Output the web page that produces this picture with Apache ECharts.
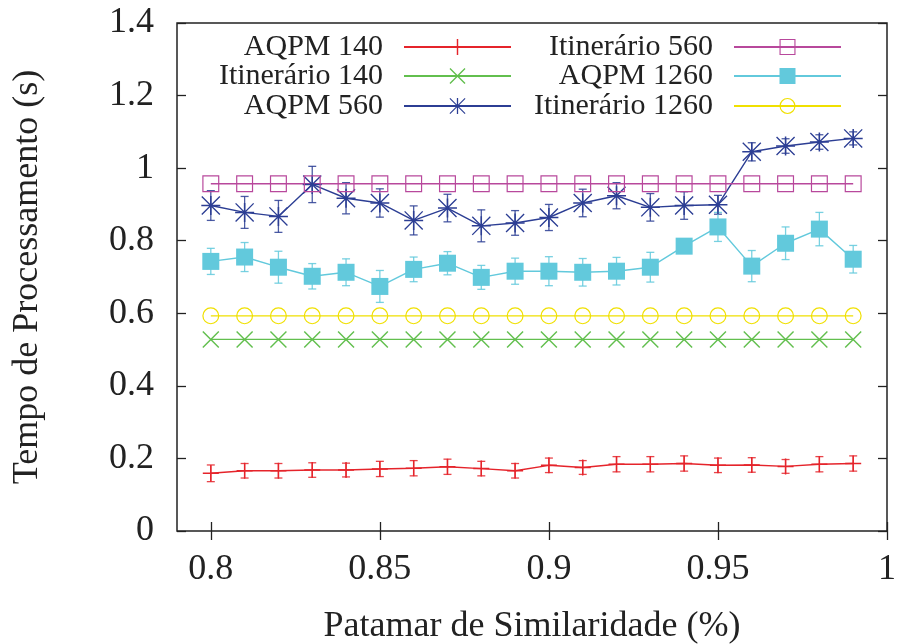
<!DOCTYPE html>
<html lang="pt">
<head>
	<meta charset="UTF-8">
	<title>Tempo de Processamento</title>
	<script src="https://cdn.jsdelivr.net/npm/echarts@6/dist/echarts.min.js"></script>
	<style>
		html, body { margin: 0; padding: 0; background: #fff; }
		#charts { width: 899px; height: 644px; }
	</style>
</head>
<body>
<div id="charts"></div>
<script>
	// patamar de similaridade
	var xs = [0.80, 0.81, 0.82, 0.83, 0.84, 0.85, 0.86, 0.87, 0.88, 0.89, 0.90, 0.91, 0.92, 0.93, 0.94, 0.95, 0.96, 0.97, 0.98, 0.99];
	var xTicks = [0.8, 0.85, 0.9, 0.95, 1];

	var aqpm140 = [0.159, 0.166, 0.166, 0.168, 0.168, 0.171, 0.173, 0.177, 0.172, 0.166, 0.181, 0.175, 0.184, 0.184, 0.186, 0.181, 0.182, 0.178, 0.184, 0.186];
	var aqpm140Err = [0.023, 0.02, 0.02, 0.02, 0.019, 0.021, 0.021, 0.021, 0.02, 0.02, 0.02, 0.019, 0.021, 0.021, 0.021, 0.02, 0.02, 0.019, 0.021, 0.021];
	var itin140 = [0.528, 0.528, 0.528, 0.528, 0.528, 0.528, 0.528, 0.528, 0.528, 0.528, 0.528, 0.528, 0.528, 0.528, 0.528, 0.528, 0.528, 0.528, 0.528, 0.528];
	var aqpm560 = [0.897, 0.878, 0.867, 0.955, 0.917, 0.904, 0.856, 0.890, 0.841, 0.849, 0.864, 0.904, 0.924, 0.892, 0.897, 0.899, 1.045, 1.061, 1.072, 1.082];
	var aqpm560Err = [0.041, 0.044, 0.044, 0.05, 0.043, 0.039, 0.04, 0.038, 0.044, 0.034, 0.036, 0.038, 0.036, 0.038, 0.038, 0.026, 0.025, 0.02, 0.02, 0.018];
	var itin560 = [0.957, 0.957, 0.957, 0.957, 0.957, 0.957, 0.957, 0.957, 0.957, 0.957, 0.957, 0.957, 0.957, 0.957, 0.957, 0.957, 0.957, 0.957, 0.957, 0.957];
	var aqpm1260 = [0.743, 0.755, 0.727, 0.702, 0.713, 0.674, 0.721, 0.738, 0.699, 0.716, 0.716, 0.713, 0.716, 0.727, 0.785, 0.838, 0.730, 0.793, 0.832, 0.749];
	var aqpm1260Err = [0.036, 0.04, 0.044, 0.035, 0.037, 0.044, 0.034, 0.032, 0.033, 0.036, 0.04, 0.038, 0.038, 0.041, 0.01, 0.04, 0.043, 0.045, 0.046, 0.038];
	var itin1260 = [0.593, 0.593, 0.593, 0.593, 0.593, 0.593, 0.593, 0.593, 0.593, 0.593, 0.593, 0.593, 0.593, 0.593, 0.593, 0.593, 0.593, 0.593, 0.593, 0.593];

	var FONT = 'Liberation Serif';

	// simbolos estilo gnuplot
	var SYM_PLUS = 'path://M-1,-0.09L1,-0.09L1,0.09L-1,0.09ZM-0.09,-1L0.09,-1L0.09,1L-0.09,1Z';
	var SYM_CROSS = 'path://M-1,-0.88L-0.88,-1L1,0.88L0.88,1ZM0.88,-1L1,-0.88L-0.88,1L-1,0.88Z';
	var SYM_STAR = 'path://M-1,-0.08L1,-0.08L1,0.08L-1,0.08ZM-0.08,-1L0.08,-1L0.08,1L-0.08,1ZM-1,-0.9L-0.9,-1L1,0.9L0.9,1ZM0.9,-1L1,-0.9L-0.9,1L-1,0.9Z';
	var SYM_BOX = 'path://M-1,-1L1,-1L1,1L-1,1ZM-0.86,-0.86L-0.86,0.86L0.86,0.86L0.86,-0.86Z';
	var SYM_CIRCLE = 'path://M-1,0A1,1 0 1,0 1,0A1,1 0 1,0 -1,0ZM-0.86,0A0.86,0.86 0 1,1 0.86,0A0.86,0.86 0 1,1 -0.86,0Z';

	function pairs(ys) {
		var out = [];
		for (var i = 0; i < xs.length; i++) {
			out.push([xs[i], ys[i]]);
		}
		return out;
	}

	function triples(ys, errs) {
		var out = [];
		for (var i = 0; i < xs.length; i++) {
			out.push([xs[i], ys[i], errs[i]]);
		}
		return out;
	}

	function lineSeries(name, ys, color, symbol, size) {
		return {
			name: name,
			type: 'line',
			data: pairs(ys),
			symbol: symbol,
			symbolSize: size,
			showAllSymbol: true,
			lineStyle: {color: color, width: 1.4},
			itemStyle: {color: color},
			z: 3
		};
	}

	function errSeries(ys, errs, color) {
		return {
			type: 'custom',
			data: triples(ys, errs),
			z: 2,
			silent: true,
			renderItem: function (params, api) {
				var x = api.value(0), y = api.value(1), e = api.value(2);
				var lo = api.coord([x, y - e]);
				var hi = api.coord([x, y + e]);
				var st = {stroke: color, lineWidth: 1.3, opacity: 0.85};
				return {
					type: 'group',
					children: [
						{type: 'line', shape: {x1: lo[0], y1: lo[1], x2: hi[0], y2: hi[1]}, style: st},
						{type: 'line', shape: {x1: lo[0] - 4, y1: lo[1], x2: lo[0] + 4, y2: lo[1]}, style: st},
						{type: 'line', shape: {x1: hi[0] - 4, y1: hi[1], x2: hi[0] + 4, y2: hi[1]}, style: st}
					]
				};
			}
		};
	}

	function legendItem(name, right, top) {
		return {
			data: [name],
			right: right,
			top: top,
			padding: 0,
			align: 'right',
			itemWidth: 107,
			itemHeight: 20,
			selectedMode: false,
			textStyle: {fontFamily: FONT, fontSize: 30, color: '#222', padding: [0, 16, 0, 0]}
		};
	}

	var red = '#e5242b', green = '#62bf4e', blue = '#2c3e94', magenta = '#b8489c', cyan = '#62c9dc', yellow = '#f0e000';

	var chart = echarts.init(document.getElementById('charts'));
	chart.setOption({
		animation: false,
		backgroundColor: '#fff',
		grid: {
			left: 177,
			right: 12,
			top: 23,
			bottom: 113,
			outerBoundsMode: 'none',
			show: true,
			borderColor: '#222',
			borderWidth: 1.5
		},
		legend: [
			legendItem('AQPM 140', 387, 32),
			legendItem('Itinerário 140', 387, 61),
			legendItem('AQPM 560', 387, 91),
			legendItem('Itinerário 560', 57, 32),
			legendItem('AQPM 1260', 57, 61),
			legendItem('Itinerário 1260', 57, 91)
		],
		xAxis: [{
			type: 'value',
			min: 0.79,
			max: 1.0,
			name: 'Patamar de Similaridade (%)',
			nameLocation: 'middle',
			nameGap: 78,
			nameTextStyle: {fontFamily: FONT, fontSize: 36, color: '#222'},
			axisLine: {show: false},
			axisTick: {inside: true, length: 9, customValues: xTicks, lineStyle: {color: '#222', width: 1.3}},
			axisLabel: {customValues: xTicks, margin: 21, fontFamily: FONT, fontSize: 36, color: '#222'},
			splitLine: {show: false}
		}, {
			type: 'value',
			position: 'top',
			min: 0.79,
			max: 1.0,
			axisLine: {show: false},
			axisTick: {inside: true, length: 9, customValues: xTicks, lineStyle: {color: '#222', width: 1.3}},
			axisLabel: {show: false},
			splitLine: {show: false}
		}],
		yAxis: [{
			type: 'value',
			min: 0,
			max: 1.4,
			interval: 0.2,
			name: 'Tempo de Processamento (s)',
			nameLocation: 'middle',
			nameGap: 131,
			nameTextStyle: {fontFamily: FONT, fontSize: 36, color: '#222'},
			axisLine: {show: false},
			axisTick: {inside: true, length: 9, lineStyle: {color: '#222', width: 1.3}},
			axisLabel: {margin: 23, fontFamily: FONT, fontSize: 36, color: '#222'},
			splitLine: {show: false}
		}, {
			type: 'value',
			position: 'right',
			min: 0,
			max: 1.4,
			interval: 0.2,
			axisLine: {show: false},
			axisTick: {inside: true, length: 9, lineStyle: {color: '#222', width: 1.3}},
			axisLabel: {show: false},
			splitLine: {show: false}
		}],
		series: [
			errSeries(aqpm140, aqpm140Err, red),
			lineSeries('AQPM 140', aqpm140, red, SYM_PLUS, 16),
			lineSeries('Itinerário 140', itin140, green, SYM_CROSS, 17),
			errSeries(aqpm560, aqpm560Err, blue),
			lineSeries('AQPM 560', aqpm560, blue, SYM_STAR, 19),
			lineSeries('Itinerário 560', itin560, magenta, SYM_BOX, 17),
			errSeries(aqpm1260, aqpm1260Err, cyan),
			lineSeries('AQPM 1260', aqpm1260, cyan, 'rect', 17),
			lineSeries('Itinerário 1260', itin1260, yellow, SYM_CIRCLE, 17)
		]
	});

	window.onresize = function () {
		chart.resize();
	};
</script>
</body>
</html>
